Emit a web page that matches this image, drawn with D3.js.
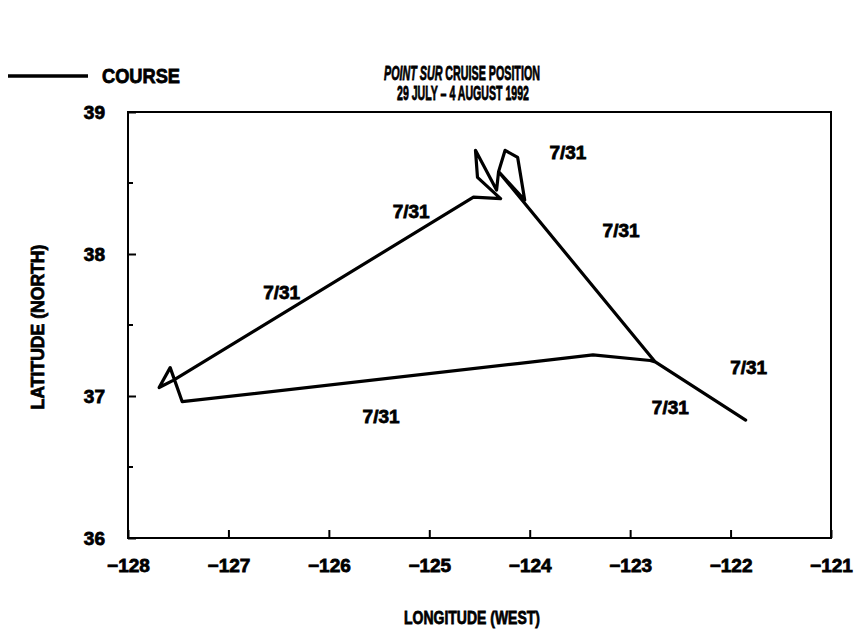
<!DOCTYPE html>
<html>
<head>
<meta charset="utf-8">
<script src="https://cdn.jsdelivr.net/npm/d3@7"></script>
<style>
  body { margin: 0; background: #fff; }
  text { font-family: "Liberation Sans", Arial, sans-serif; font-weight: bold; fill: #000; stroke: #000; stroke-width: 0.8; }
  .frame { fill: none; stroke: #000; stroke-width: 2; }
  .course { fill: none; stroke: #000; stroke-width: 3.2; stroke-linejoin: round; stroke-linecap: round; }
</style>
</head>
<body>
<div id="chart"></div>
<script>
// cruise track (longitude, latitude)
var lons = [-121.85, -122.75, -124.31, -124.245, -124.12, -124.05, -124.31, -124.33, -124.54, -124.52,
            -124.29, -124.56, -127.55, -127.69, -127.58, -127.52, -127.46, -124.10, -123.37, -122.80, -122.75];
var lats = [36.83, 37.24, 38.58, 38.73, 38.68, 38.38, 38.58, 38.45, 38.73, 38.54,
            38.39, 38.40, 37.11, 37.06, 37.20, 37.08, 36.96, 37.23, 37.29, 37.25, 37.24];

// date annotations along the track
var noteText = ["7/31", "7/31", "7/31", "7/31", "7/31", "7/31", "7/31"];
var noteLon  = [-123.62, -125.18, -123.09, -126.47, -121.82, -125.48, -122.60];
var noteLat  = [38.72, 38.30, 38.17, 37.73, 37.20, 36.86, 36.92];

var xTicks = [-128, -127, -126, -125, -124, -123, -122, -121];
var yTicks = [36, 37, 38, 39];
var yMinor = [36.5, 37.5, 38.5];

var width = 855, height = 629;
var margin = {left: 128, right: 24, top: 112, bottom: 91};

var svg = d3.select("#chart").append("svg")
  .attr("width", width).attr("height", height);

var x = d3.scaleLinear().domain([-128, -121]).range([margin.left, width - margin.right]);
var y = d3.scaleLinear().domain([36, 39]).range([height - margin.bottom, margin.top]);

// squeeze a text horizontally to a given width (the original lettering is condensed)
function label(cx, cy, w, size, parts, rot) {
  var g = svg.append("g");
  var t = g.append("text").attr("text-anchor", "middle").style("font-size", size + "px");
  parts.forEach(function(p){
    t.append("tspan").style("font-style", p[1] ? "italic" : "normal").text(p[0]);
  });
  var k = w / t.node().getComputedTextLength();
  g.attr("transform", "translate(" + cx + "," + cy + ")" + (rot ? " rotate(-90)" : "") + " scale(" + k + ",1)");
  return g;
}

label(462, 80, 156, 20, [["POINT SUR", true], [" CRUISE POSITION", false]]);
label(463, 100, 132, 20, [["29 JULY \u2013 4 AUGUST 1992", false]]);

// legend
svg.append("line").attr("x1", 8).attr("x2", 88).attr("y1", 76).attr("y2", 76)
  .attr("stroke", "#000").attr("stroke-width", 3.5);
label(141, 83, 78, 20, [["COURSE", false]]);

// axes
var fmt = d3.format("d");
var xAxis = d3.axisBottom(x).tickValues(xTicks).tickFormat(fmt).tickSizeInner(-8).tickSizeOuter(0).tickPadding(21);
var gx = svg.append("g").attr("transform", "translate(0," + y(36) + ")").call(xAxis);
gx.select(".domain").remove();
gx.selectAll("line").attr("stroke", "#000").attr("stroke-width", 2);
gx.selectAll("text").style("font-size", "19px").style("font-family", "Liberation Sans, Arial, sans-serif")
  .attr("font-weight", "bold").attr("stroke", "#000").attr("stroke-width", 0.8);

var yAxis = d3.axisLeft(y).tickValues(yTicks).tickFormat(fmt).tickSizeInner(-8).tickSizeOuter(0).tickPadding(23);
var gy = svg.append("g").attr("transform", "translate(" + x(-128) + ",0)").call(yAxis);
gy.select(".domain").remove();
gy.selectAll("line").attr("stroke", "#000").attr("stroke-width", 2);
gy.selectAll("text").style("font-size", "19px").style("font-family", "Liberation Sans, Arial, sans-serif")
  .attr("font-weight", "bold").attr("stroke", "#000").attr("stroke-width", 0.8);

svg.append("g").selectAll("line").data(yMinor).enter().append("line")
  .attr("x1", x(-128)).attr("x2", x(-128) + 5)
  .attr("y1", function(d){ return y(d); }).attr("y2", function(d){ return y(d); })
  .attr("stroke", "#000").attr("stroke-width", 2);

svg.append("rect").attr("class", "frame")
  .attr("x", x(-128)).attr("y", y(39))
  .attr("width", x(-121) - x(-128)).attr("height", y(36) - y(39));

// axis titles
label(472, 624, 136, 19, [["LONGITUDE (WEST)", false]]);
label(44, 327, 165, 19, [["LATITUDE (NORTH)", false]], true);

// course line
var pts = lons.map(function(d, i){ return [d, lats[i]]; });
var line = d3.line().x(function(d){ return x(d[0]); }).y(function(d){ return y(d[1]); });
svg.append("path").attr("class", "course").attr("d", line(pts));

// annotations
svg.append("g").selectAll("text").data(noteText).enter().append("text")
  .attr("x", function(d, i){ return x(noteLon[i]); })
  .attr("y", function(d, i){ return y(noteLat[i]); })
  .attr("dy", "0.36em").attr("text-anchor", "middle")
  .style("font-size", "19px")
  .text(function(d){ return d; });
</script>
</body>
</html>
